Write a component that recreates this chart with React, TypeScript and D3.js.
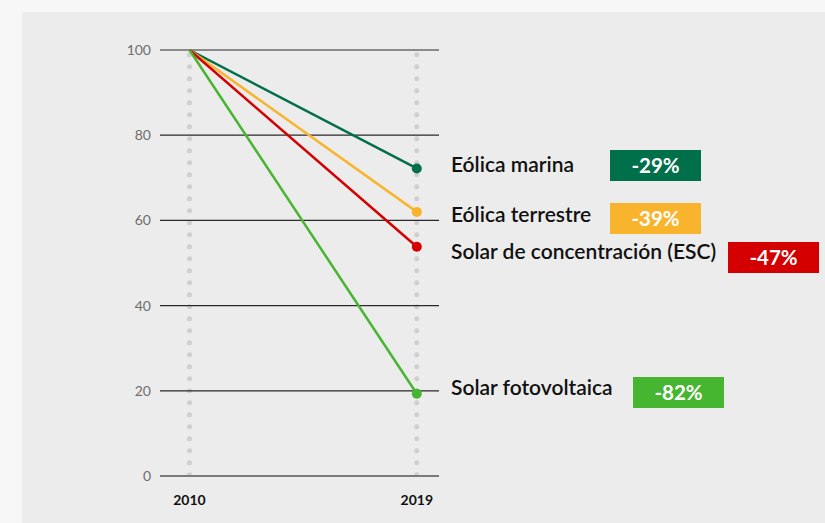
import React from "react";
import * as d3 from "d3";

const years = ["2010", "2019"];
const yTicks = [0, 20, 40, 60, 80, 100];
const seriesNames = ["Eólica marina", "Eólica terrestre", "Solar de concentración (ESC)", "Solar fotovoltaica"];
const startValues = [100, 100, 100, 100];
const endValues = [72.2, 62, 53.8, 19.3];
const changeLabels = ["-29%", "-39%", "-47%", "-82%"];
const colors = ["#00704a", "#f9b42d", "#d40000", "#46b52f"];
// label layout (positions only)
const labelLayout = [
  { tx: 451, ty: 172, bx: 610, by: 150 },
  { tx: 451, ty: 222, bx: 610, by: 203 },
  { tx: 451, ty: 259, bx: 728, by: 242 },
  { tx: 451, ty: 395, bx: 633, by: 377 },
];

export default function App() {
  const W = 825, H = 523;
  const x = d3.scalePoint<string>().domain(years).range([189.5, 416.8]);
  const y = d3.scaleLinear().domain([0, 100]).range([476, 50]);
  const line = d3.line<number>().x((_, i) => x(years[i])!).y((d) => y(d));
  const font = "Lato, 'Open Sans', sans-serif";

  return (
    <svg width={W} height={H} style={{ position: "absolute", left: 0, top: 0 }} fontFamily={font}>
      <rect x={0} y={0} width={W} height={H} fill="#f7f7f7" />
      <rect x={22} y={12} width={W - 22} height={H - 12} fill="#ececec" />
      {/* dotted verticals */}
      {years.map((yr) => (
        <line key={yr} x1={x(yr)} x2={x(yr)} y1={54.7} y2={482} stroke="#cfcfcf" strokeWidth={5}
          strokeLinecap="round" strokeDasharray="0 12" />
      ))}
      {/* gridlines */}
      {yTicks.map((t) => (
        <g key={t}>
          <line x1={160} x2={439} y1={y(t)} y2={y(t)} stroke={t === 0 ? "#7a7a7a" : "#2a2a2a"} strokeWidth={t === 0 ? 2 : 1.2} />
          <text x={151} y={y(t)} dy="0.35em" textAnchor="end" fontSize={14} fill="#6e6e6e">{t}</text>
        </g>
      ))}
      {/* year labels */}
      {years.map((yr) => (
        <text key={yr} x={x(yr)} y={505} textAnchor="middle" fontSize={14} fontWeight={700} fill="#111">{yr}</text>
      ))}
      {seriesNames.map((n, i) => (
        <path key={n} d={line([startValues[i], endValues[i]])!} fill="none" stroke={colors[i]} strokeWidth={2.5} />
      ))}
      {seriesNames.map((n, i) => (
        <circle key={n} cx={x(years[1])} cy={y(endValues[i])} r={5} fill={colors[i]} />
      ))}
      {/* labels and badges */}
      {seriesNames.map((n, i) => {
        const L = labelLayout[i];
        return (
          <g key={n}>
            <text x={L.tx} y={L.ty} fontSize={21} fontWeight={600} fill="#111">{n}</text>
            <rect x={L.bx} y={L.by} width={91} height={31} fill={colors[i]} />
            <text x={L.bx + 45.5} y={L.by + 15.5} dy="0.36em" textAnchor="middle" fontSize={20.5} fontWeight={700} fill="#fff">{changeLabels[i]}</text>
          </g>
        );
      })}
    </svg>
  );
}
